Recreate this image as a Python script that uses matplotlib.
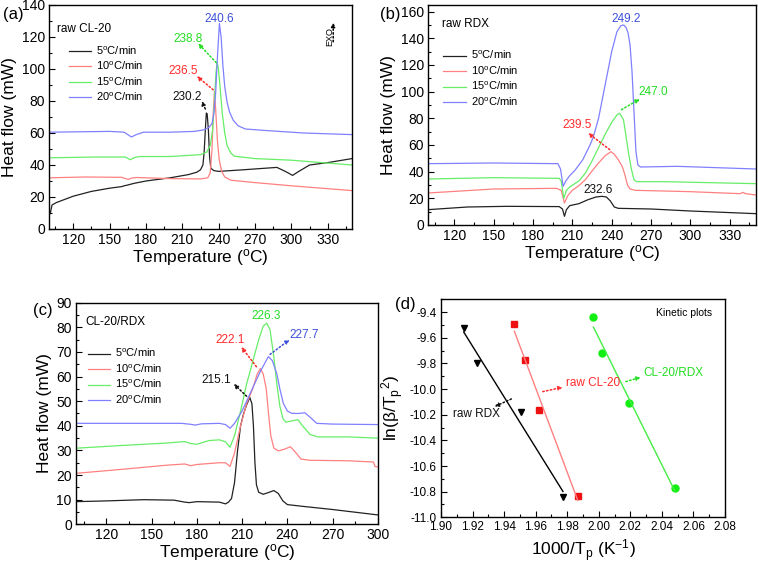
import matplotlib.pyplot as plt
from matplotlib.ticker import MultipleLocator
import numpy as np

plt.rcParams['font.family'] = ['Liberation Sans', 'DejaVu Sans']
plt.rcParams['mathtext.default'] = 'regular'

# ---- data ----
rates = ['5', '10', '15', '20']

# (a) raw CL-20
a5_T = [100, 101, 102.5, 106, 120, 135, 150, 160, 162, 165, 170, 180, 200, 215, 222, 225, 227, 228,
        229, 229.8, 230.5, 231.5, 232.5, 233.5, 236, 240, 260, 288, 295, 301, 305, 315, 330, 350]
a5_H = [11, 9.5, 15, 16.5, 20.5, 23.5, 25.5, 26.5, 27, 27.5, 28.5, 30, 32, 34, 35.5, 37, 40, 48,
        62, 72.5, 72, 62, 45, 38, 36.5, 36, 37, 38.5, 36, 33.5, 35.5, 40, 41.5, 44]
a10_T = [100, 130, 160, 163, 165.5, 168, 172, 200, 225, 231, 233, 234.5, 235.5, 236.5, 237.5, 239,
         240.5, 242.5, 245, 250, 270, 300, 350]
a10_H = [32, 32.5, 32.3, 31.5, 31, 31.8, 32.2, 31.5, 31.3, 32, 35, 50, 72, 86, 75, 55,
         43, 36, 32.5, 30.5, 29, 27, 24]
a15_T = [100, 140, 163, 167, 171, 175, 200, 215, 225, 230, 233, 235, 236.5, 237.8, 238.8, 239.8,
         241, 243, 245, 247, 250, 253, 270, 300, 350]
a15_H = [44.5, 45, 45, 43.3, 44.8, 45.3, 45.3, 46, 46.5, 48, 52, 62, 80, 98, 104, 100,
         90, 72, 60, 52, 47.5, 45.5, 44, 43, 40]
a20_T = [100, 150, 162, 165, 168, 172, 178, 200, 220, 228, 232, 234.5, 236, 237.5, 239, 240.6,
         242, 243.5, 245, 247, 249, 252, 256, 262, 280, 310, 350]
a20_H = [60.5, 61, 60.5, 59, 57.5, 59, 60.5, 60.5, 61, 62, 63.5, 66, 72, 85, 108, 128.5,
         120, 102, 89, 79, 73, 68, 64.5, 62.5, 61.5, 60, 59]

# (b) raw RDX
b5_T = [100, 130, 160, 200, 202.5, 204, 205.5, 208, 215, 222, 228, 232.6, 236, 239, 242, 245,
        270, 300, 350]
b5_H = [11.5, 13.5, 14, 13.8, 12, 6.5, 11.5, 14.5, 16, 19, 21, 21.5, 21, 18, 13.5, 12.5,
        12, 10.5, 8.5]
b10_T = [100, 150, 198, 201.5, 204, 206.5, 210, 215, 220, 225, 230, 235, 239.5, 242, 245, 248,
         250, 252, 254, 258, 300, 338, 340, 342, 350]
b10_H = [24, 27, 27.5, 26, 16.5, 22, 26, 29.5, 34, 40.5, 46.5, 52, 55, 53, 49, 44,
         38, 30, 27, 26, 25, 23.5, 24.5, 23.5, 22.5]
b15_T = [100, 150, 200, 201.5, 203.5, 205.5, 208, 215, 220, 225, 230, 235, 240, 244, 246, 249,
         251, 253, 255, 257, 259, 280, 350]
b15_H = [34.5, 35.5, 35, 33, 20, 26, 28.5, 33, 39, 48, 58, 68, 77, 82.5, 83.8, 79,
         66, 53, 42, 34, 32.5, 32.5, 31]
b20_T = [100, 150, 199, 201, 203, 205, 208, 212, 218, 223.5, 226, 230, 235, 240, 244, 247, 249.2,
         251, 252.5, 254, 255.5, 257, 258.5, 260, 262, 290, 350]
b20_H = [46, 46.5, 46, 42, 29, 33, 37, 41, 49, 60, 66, 80, 105, 130, 145, 149.5, 150,
         148, 144, 135, 115, 85, 55, 45, 43.5, 44, 42]

# (c) CL-20/RDX
c5_T = [100, 120, 145, 165, 172, 175, 180, 195, 199, 201, 203, 205, 207, 209, 211, 213, 215.1,
        216.5, 217.5, 218.5, 219.5, 221, 224, 227, 231, 234, 237, 240, 250, 270, 300]
c5_H = [9.2, 9.5, 10, 9.8, 9, 8.8, 9.2, 9, 8.3, 9, 10.5, 17, 30, 40, 45, 48.5, 51.5,
        49, 40, 25, 16, 13, 12.2, 12.8, 13.7, 12.5, 9.5, 8, 7.3, 6, 3.8]
c10_T = [100, 130, 160, 172, 176, 180, 195, 199, 202, 205, 209, 213, 217, 220, 222.1, 224, 226,
         227.5, 229, 231, 234, 238, 242, 245, 249, 255, 280, 297, 298, 300]
c10_H = [20.7, 22.3, 24, 24.5, 23.8, 24.3, 25, 25, 23.5, 29, 40, 49, 55, 61, 63.3, 61, 55,
         45, 36, 31, 29.8, 30.5, 31.5, 29.5, 26.5, 26, 25.8, 25.3, 23.5, 23.3]
c15_T = [100, 130, 160, 172, 176, 180, 188, 195, 199, 202, 205, 209, 213, 217, 221, 224, 226.3,
         228.5, 231, 233, 235, 237, 239, 243, 247, 250, 255, 260, 280, 300]
c15_H = [30.9, 32, 33, 33.6, 32.8, 32.5, 34, 34.3, 33.5, 31.3, 36, 46, 57, 66, 75, 80.5, 81.7,
         79, 68, 57, 48, 43, 41.5, 42, 42.5, 40, 36.5, 35.5, 35.5, 35]
c20_T = [100, 150, 170, 176, 179, 183, 195, 199, 202, 205, 209.7, 213, 217.4, 222, 227.4, 230,
         232.9, 235, 237.3, 240, 242.8, 247, 251.6, 255, 259.4, 270, 300]
c20_H = [41, 41, 41, 40.6, 40.3, 40.8, 41, 40.5, 39, 41, 45.7, 50, 55.9, 62, 68.1, 66.5,
         61.3, 55, 49.1, 46, 45.1, 45, 45.3, 43.5, 41, 40.7, 40.5]

# (d) kinetic plots
rdx_x = [1.9144, 1.9225, 1.9506, 1.9773]
rdx_y = [-9.52, -9.80, -10.18, -10.84]
cl20_x = [1.9465, 1.9533, 1.9621, 1.9867]
cl20_y = [-9.49, -9.77, -10.16, -10.83]
mix_x = [1.9966, 2.0022, 2.0192, 2.0481]
mix_y = [-9.44, -9.72, -10.11, -10.77]

line_cols = ['#222222', '#ff8080', '#66ee66', '#8080ff']
text_cols = ['#111111', '#ff2a2a', '#22dd22', '#3c50d8']

W, H = 758, 564
fig = plt.figure(figsize=(W / 100, H / 100), dpi=100)


def px_ax(l, t, r, b):
    return fig.add_axes([l / W, 1 - b / H, (r - l) / W, (b - t) / H])


def style(ax, xmaj, xmin, ymaj, ymin, lsize=10):
    ax.xaxis.set_major_locator(MultipleLocator(xmaj))
    ax.xaxis.set_minor_locator(MultipleLocator(xmin))
    ax.yaxis.set_major_locator(MultipleLocator(ymaj))
    ax.yaxis.set_minor_locator(MultipleLocator(ymin))
    ax.tick_params(which='both', direction='in', top=False, right=False, labelsize=lsize)
    ax.tick_params(which='major', length=4, width=0.8, pad=3)
    ax.tick_params(which='minor', length=2, width=0.8)
    for s in ax.spines.values():
        s.set_linewidth(1.0)


def arrow(ax, tail, head, col):
    ax.annotate('', xy=head, xytext=tail,
                arrowprops=dict(arrowstyle='-|>', color=col, lw=1.1, ls=(0, (1, 1.5)),
                                mutation_scale=6, shrinkA=0, shrinkB=0))


def dsc_panel(ax, curves, legpos):
    hs = []
    for (T, Hf), c, r in zip(curves, line_cols, rates):
        h, = ax.plot(T, Hf, color=c, lw=0.9, label=r + '$^{o}$C/min')
        hs.append(h)
    ax.legend(handles=hs, loc='upper left', bbox_to_anchor=legpos, frameon=False,
              fontsize=8, handlelength=2.0, handletextpad=0.45, labelspacing=0.28,
              borderpad=0, borderaxespad=0)
    ax.set_xlabel('Temperature ($^{o}$C)', fontsize=12.5, labelpad=0)
    ax.set_ylabel('Heat flow (mW)', fontsize=12.5, labelpad=3)


# ---- (a) ----
ax = px_ax(49, 5, 352, 229)
dsc_panel(ax, [(a5_T, a5_H), (a10_T, a10_H), (a15_T, a15_H), (a20_T, a20_H)], (0.065, 0.825))
ax.set_xlim(100, 350)
ax.set_ylim(0, 140)
style(ax, 30, 15, 20, 10)
ax.set_xticks(np.arange(120, 331, 30))
ax.text(107, 125, 'raw CL-20', fontsize=8.5, va='center')
ax.text(214, 82.5, '230.2', color=text_cols[0], fontsize=8.5, ha='center', va='center')
ax.text(210.5, 98.7, '236.5', color=text_cols[1], fontsize=8.5, ha='center', va='center')
ax.text(214.5, 119, '238.8', color=text_cols[2], fontsize=8.5, ha='center', va='center')
ax.text(240.3, 131.5, '240.6', color=text_cols[3], fontsize=8.5, ha='center', va='center')
arrow(ax, (229, 75), (226, 80), text_cols[0])
arrow(ax, (235.5, 87), (222, 95.5), text_cols[1])
arrow(ax, (238, 104), (223, 116), text_cols[2])
ax.text(332, 120, 'EXO', rotation=90, fontsize=6.5, ha='center', va='center')
arrow(ax, (334.5, 117), (334.5, 129), '#000000')

# ---- (b) ----
ax = px_ax(428, 5, 756, 225)
dsc_panel(ax, [(b5_T, b5_H), (b10_T, b10_H), (b15_T, b15_H), (b20_T, b20_H)], (0.047, 0.80))
ax.set_xlim(100, 350)
ax.set_ylim(0, 165)
style(ax, 30, 15, 20, 10)
ax.set_xticks(np.arange(120, 331, 30))
ax.text(111, 151, 'raw RDX', fontsize=8.5, va='center')
ax.text(230, 26.5, '232.6', color=text_cols[0], fontsize=8.5, ha='center', va='center')
ax.text(213.5, 75, '239.5', color=text_cols[1], fontsize=8.5, ha='center', va='center')
ax.text(272, 100, '247.0', color=text_cols[2], fontsize=8.5, ha='center', va='center')
ax.text(251, 154.5, '249.2', color=text_cols[3], fontsize=8.5, ha='center', va='center')
arrow(ax, (238.5, 56.5), (222, 69), text_cols[1])
arrow(ax, (247.5, 86.5), (261.5, 94.5), text_cols[2])

# ---- (c) ----
ax = px_ax(76, 302.7, 378, 524.3)
dsc_panel(ax, [(c5_T, c5_H), (c10_T, c10_H), (c15_T, c15_H), (c20_T, c20_H)], (0.04, 0.80))
ax.set_xlim(100, 300)
ax.set_ylim(0, 90)
style(ax, 30, 15, 10, 5)
ax.set_xticks(np.arange(120, 301, 30))
ax.text(106.5, 82, 'CL-20/RDX', fontsize=8.5, va='center')
ax.text(193, 58.6, '215.1', color=text_cols[0], fontsize=8.5, ha='center', va='center')
ax.text(202, 75, '222.1', color=text_cols[1], fontsize=8.5, ha='center', va='center')
ax.text(226, 84.5, '226.3', color=text_cols[2], fontsize=8.5, ha='center', va='center')
ax.text(251, 77, '227.7', color=text_cols[3], fontsize=8.5, ha='center', va='center')
arrow(ax, (213, 52), (204.5, 57), text_cols[0])
arrow(ax, (219.5, 64), (209.5, 72), text_cols[1])
arrow(ax, (228.5, 69), (241.5, 75), text_cols[3])

# ---- (d) ----
ax = px_ax(441, 299.3, 725, 517.3)
sets = [(rdx_x, rdx_y, '#000000', 'v', '#000000'),
        (cl20_x, cl20_y, '#ee1111', 's', '#ff8080'),
        (mix_x, mix_y, '#11ee11', 'o', '#44ee44')]
for xs, ys, mc, mk, lc in sets:
    ax.plot(xs, ys, ls='none', marker=mk, color=mc, ms=5)
    k, b0 = np.polyfit(xs, ys, 1)
    xx = np.array([min(xs), max(xs)])
    ax.plot(xx, k * xx + b0, color=lc, lw=1.0)
ax.set_xlim(1.90, 2.08)
ax.set_ylim(-11.0, -9.3)
style(ax, 0.02, 0.01, 0.2, 0.1, lsize=8.5)
ax.xaxis.set_major_formatter(plt.FormatStrFormatter('%.2f'))
ax.yaxis.set_major_formatter(plt.FormatStrFormatter('%.1f'))
ax.set_xlabel('1000/T$_p$ (K$^{-1}$)', fontsize=12.5, labelpad=3)
ax.set_ylabel('ln($\\beta$/T$_p$$^2$)', fontsize=12.5, labelpad=3)
ax.text(2.054, -9.41, 'Kinetic plots', fontsize=7.5, ha='center', va='center')
ax.text(2.0285, -9.877, 'CL-20/RDX', color='#22dd22', fontsize=8.5, va='center')
ax.text(1.979, -9.955, 'raw CL-20', color='#ff2a2a', fontsize=8.5, va='center')
ax.text(1.9227, -10.194, 'raw RDX', color='#111111', fontsize=8.5, ha='center', va='center')
arrow(ax, (2.0172, -9.942), (2.0266, -9.908), '#22dd22')
arrow(ax, (1.9645, -10.02), (1.9772, -9.986), '#ff2a2a')
arrow(ax, (1.9446, -10.077), (1.934, -10.137), '#111111')

# panel letters
for lab, px, py in [('(a)', 13, 14), ('(b)', 390, 14), ('(c)', 43, 311), ('(d)', 405, 305)]:
    fig.text(px / W, 1 - py / H, lab, fontsize=12, ha='center', va='center')

fig.savefig('out.png', dpi=100)
